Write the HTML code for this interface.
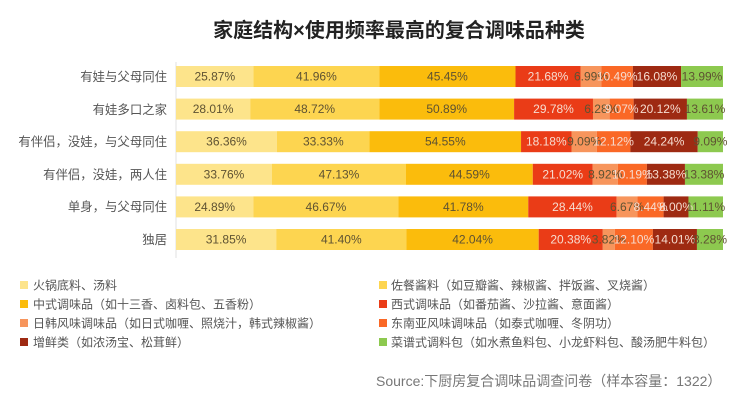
<!DOCTYPE html>
<html><head><meta charset="utf-8"><style>
html,body{margin:0;padding:0;background:#fff;}
svg{display:block;font-family:"Liberation Sans","Noto Sans CJK SC",sans-serif;}
.v{font-size:12px;text-anchor:middle;}
.d{fill:#5e5232;}
.l{fill:#f6dcd0;}
.c{font-size:12.4px;fill:#555;text-anchor:end;}
.lg{font-size:12px;fill:#555;}
</style></head><body>
<svg width="746" height="400" viewBox="0 0 746 400" xmlns="http://www.w3.org/2000/svg">
<rect width="746" height="400" fill="#fff"/>
<text x="399" y="37" text-anchor="middle" font-size="20" font-weight="bold" fill="#222">家庭结构×使用频率最高的复合调味品种类</text>
<line x1="176" y1="62" x2="176" y2="258" stroke="#e2e2e2" stroke-width="1"/>

<!-- category labels -->
<text class="c" x="167" y="81">有娃与父母同住</text>
<text class="c" x="167" y="114">有娃多口之家</text>
<text class="c" x="167" y="146">有伴侣，没娃，与父母同住</text>
<text class="c" x="167" y="179">有伴侣，没娃，两人住</text>
<text class="c" x="167" y="211">单身，与父母同住</text>
<text class="c" x="167" y="244">独居</text>

<!-- Row 1 -->
<g transform="translate(0,66)">
<rect x="176" width="77.53" height="21" fill="#fde48b"/>
<rect x="253.53" width="125.76" height="21" fill="#fdd550"/>
<rect x="379.29" width="136.22" height="21" fill="#fbbc0c"/>
<rect x="515.51" width="64.98" height="21" fill="#ea3c17"/>
<rect x="580.49" width="20.95" height="21" fill="#f7955c"/>
<rect x="601.44" width="31.44" height="21" fill="#fa6826"/>
<rect x="632.88" width="48.19" height="21" fill="#9e2a12"/>
<rect x="681.07" width="41.93" height="21" fill="#8dc94f"/>
<text class="v d" x="214.8" y="14.5">25.87%</text>
<text class="v d" x="316.4" y="14.5">41.96%</text>
<text class="v d" x="447.4" y="14.5">45.45%</text>
<text class="v l" x="548.0" y="14.5">21.68%</text>
<text class="v d" x="591.0" y="14.5">6.99%</text>
<text class="v l" x="617.2" y="14.5">10.49%</text>
<text class="v l" x="657.0" y="14.5">16.08%</text>
<text class="v d" x="702.0" y="14.5">13.99%</text>
</g>

<!-- Row 2 -->
<g transform="translate(0,98.6)">
<rect x="176" width="74.20" height="21" fill="#fde48b"/>
<rect x="250.20" width="129.07" height="21" fill="#fdd550"/>
<rect x="379.27" width="134.82" height="21" fill="#fbbc0c"/>
<rect x="514.09" width="78.89" height="21" fill="#ea3c17"/>
<rect x="592.98" width="16.64" height="21" fill="#f7955c"/>
<rect x="609.62" width="24.03" height="21" fill="#fa6826"/>
<rect x="633.65" width="53.30" height="21" fill="#9e2a12"/>
<rect x="686.95" width="36.06" height="21" fill="#8dc94f"/>
<text class="v d" x="213.1" y="14.5">28.01%</text>
<text class="v d" x="314.7" y="14.5">48.72%</text>
<text class="v d" x="446.7" y="14.5">50.89%</text>
<text class="v l" x="553.5" y="14.5">29.78%</text>
<text class="v d" x="601.3" y="14.5">6.28%</text>
<text class="v l" x="621.6" y="14.5">9.07%</text>
<text class="v l" x="660.3" y="14.5">20.12%</text>
<text class="v d" x="705.0" y="14.5">13.61%</text>
</g>

<!-- Row 3 -->
<g transform="translate(0,131.2)">
<rect x="176" width="100.98" height="21" fill="#fde48b"/>
<rect x="276.98" width="92.56" height="21" fill="#fdd550"/>
<rect x="369.54" width="151.50" height="21" fill="#fbbc0c"/>
<rect x="521.04" width="50.49" height="21" fill="#ea3c17"/>
<rect x="571.53" width="25.24" height="21" fill="#f7955c"/>
<rect x="596.77" width="33.66" height="21" fill="#fa6826"/>
<rect x="630.43" width="67.32" height="21" fill="#9e2a12"/>
<rect x="697.75" width="25.24" height="21" fill="#8dc94f"/>
<text class="v d" x="226.5" y="14.5">36.36%</text>
<text class="v d" x="323.3" y="14.5">33.33%</text>
<text class="v d" x="445.3" y="14.5">54.55%</text>
<text class="v l" x="546.3" y="14.5">18.18%</text>
<text class="v d" x="584.2" y="14.5">9.09%</text>
<text class="v l" x="613.6" y="14.5">12.12%</text>
<text class="v l" x="664.1" y="14.5">24.24%</text>
<text class="v d" x="710.4" y="14.5">9.09%</text>
</g>

<!-- Row 4 -->
<g transform="translate(0,163.8)">
<rect x="176" width="95.99" height="21" fill="#fde48b"/>
<rect x="271.99" width="134.01" height="21" fill="#fdd550"/>
<rect x="406.00" width="126.79" height="21" fill="#fbbc0c"/>
<rect x="532.79" width="59.77" height="21" fill="#ea3c17"/>
<rect x="592.56" width="25.36" height="21" fill="#f7955c"/>
<rect x="617.92" width="28.98" height="21" fill="#fa6826"/>
<rect x="646.90" width="38.05" height="21" fill="#9e2a12"/>
<rect x="684.95" width="38.05" height="21" fill="#8dc94f"/>
<text class="v d" x="224.0" y="14.5">33.76%</text>
<text class="v d" x="339.0" y="14.5">47.13%</text>
<text class="v d" x="469.4" y="14.5">44.59%</text>
<text class="v l" x="562.7" y="14.5">21.02%</text>
<text class="v d" x="605.2" y="14.5">8.92%</text>
<text class="v l" x="632.4" y="14.5">10.19%</text>
<text class="v l" x="665.9" y="14.5">13.38%</text>
<text class="v d" x="704.0" y="14.5">13.38%</text>
</g>

<!-- Row 5 -->
<g transform="translate(0,196.4)">
<rect x="176" width="77.36" height="21" fill="#fde48b"/>
<rect x="253.36" width="145.05" height="21" fill="#fdd550"/>
<rect x="398.41" width="129.85" height="21" fill="#fbbc0c"/>
<rect x="528.26" width="88.39" height="21" fill="#ea3c17"/>
<rect x="616.65" width="20.73" height="21" fill="#f7955c"/>
<rect x="637.38" width="26.23" height="21" fill="#fa6826"/>
<rect x="663.61" width="24.86" height="21" fill="#9e2a12"/>
<rect x="688.47" width="34.53" height="21" fill="#8dc94f"/>
<text class="v d" x="214.7" y="14.5">24.89%</text>
<text class="v d" x="325.9" y="14.5">46.67%</text>
<text class="v d" x="463.3" y="14.5">41.78%</text>
<text class="v l" x="572.5" y="14.5">28.44%</text>
<text class="v d" x="627.0" y="14.5">6.67%</text>
<text class="v l" x="650.5" y="14.5">8.44%</text>
<text class="v l" x="676.0" y="14.5">8.00%</text>
<text class="v d" x="705.7" y="14.5">11.11%</text>
</g>

<!-- Row 6 -->
<g transform="translate(0,229)">
<rect x="176" width="100.20" height="21" fill="#fde48b"/>
<rect x="276.20" width="130.24" height="21" fill="#fdd550"/>
<rect x="406.44" width="132.25" height="21" fill="#fbbc0c"/>
<rect x="538.69" width="64.11" height="21" fill="#ea3c17"/>
<rect x="602.80" width="12.02" height="21" fill="#f7955c"/>
<rect x="614.82" width="38.06" height="21" fill="#fa6826"/>
<rect x="652.88" width="44.07" height="21" fill="#9e2a12"/>
<rect x="696.95" width="26.05" height="21" fill="#8dc94f"/>
<text class="v d" x="226.1" y="14.5">31.85%</text>
<text class="v d" x="341.3" y="14.5">41.40%</text>
<text class="v d" x="472.6" y="14.5">42.04%</text>
<text class="v l" x="570.7" y="14.5">20.38%</text>
<text class="v d" x="608.8" y="14.5">3.82%</text>
<text class="v l" x="633.9" y="14.5">12.10%</text>
<text class="v l" x="674.9" y="14.5">14.01%</text>
<text class="v d" x="710.0" y="14.5">8.28%</text>
</g>

<!-- Legend -->
<rect x="20" y="281" width="8" height="8" fill="#fde48b"/>
<text class="lg" x="33" y="289.5">火锅底料、汤料</text>
<rect x="20" y="300" width="8" height="8" fill="#fbbc0c"/>
<text class="lg" x="33" y="308.5">中式调味品（如十三香、卤料包、五香粉）</text>
<rect x="20" y="319" width="8" height="8" fill="#f7955c"/>
<text class="lg" x="33" y="327.5">日韩风味调味品（如日式咖喱、照烧汁，韩式辣椒酱）</text>
<rect x="20" y="338" width="8" height="8" fill="#9e2a12"/>
<text class="lg" x="33" y="346.5">增鲜类（如浓汤宝、松茸鲜）</text>

<rect x="379" y="281" width="8" height="8" fill="#fdd550"/>
<text class="lg" x="391" y="289.5">佐餐酱料（如豆瓣酱、辣椒酱、拌饭酱、叉烧酱）</text>
<rect x="379" y="300" width="8" height="8" fill="#ea3c17"/>
<text class="lg" x="391" y="308.5">西式调味品（如番茄酱、沙拉酱、意面酱）</text>
<rect x="379" y="319" width="8" height="8" fill="#fa6826"/>
<text class="lg" x="391" y="327.5">东南亚风味调味品（如泰式咖喱、冬阴功）</text>
<rect x="379" y="338" width="8" height="8" fill="#8dc94f"/>
<text class="lg" x="391" y="346.5">菜谱式调料包（如水煮鱼料包、小龙虾料包、酸汤肥牛料包）</text>

<text x="376" y="386" font-size="14" fill="#777">Source:下厨房复合调味品调查问卷（样本容量：1322）</text>
</svg>
</body></html>
